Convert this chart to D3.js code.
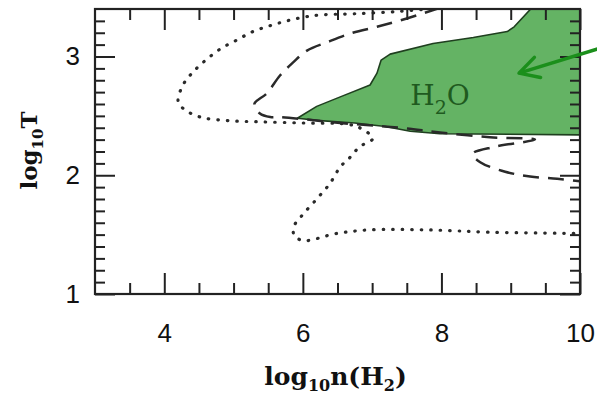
<!DOCTYPE html>
<html>
<head>
<meta charset="utf-8">
<script src="https://cdn.jsdelivr.net/npm/d3@7"></script>
<style>
  body { margin: 0; background: #fff; }
  svg { display: block; }
</style>
</head>
<body>
<div id="chart"></div>
<script>
const width = 597;
const height = 398;

// chart values (log10 n(H2), log10 T)
const xDomain = [3, 10];
const yDomain = [1, 3.4];
const xMajorTicks = [4, 6, 8, 10];
const yMajorTicks = [1, 2, 3];

const dottedCurve = [
    [7.98, 3.41], [7.40, 3.38], [6.75, 3.36], [6.25, 3.35], [6.00, 3.33],
    [5.77, 3.30], [5.53, 3.26], [5.28, 3.21], [5.05, 3.14], [4.80, 3.06],
    [4.56, 2.95], [4.40, 2.86], [4.27, 2.76], [4.20, 2.62], [4.30, 2.55],
    [4.52, 2.49], [4.91, 2.46], [5.38, 2.45], [6.00, 2.44], [6.64, 2.43],
    [6.82, 2.40], [7.01, 2.31], [6.82, 2.24], [6.68, 2.15], [6.54, 2.07],
    [6.39, 1.93], [6.20, 1.80], [6.00, 1.67], [5.88, 1.58], [5.87, 1.50],
    [6.00, 1.45], [6.49, 1.51], [6.97, 1.54], [7.79, 1.54], [8.74, 1.52],
    [10.0, 1.51]
];

const dashedCurve = [
    [7.98, 3.41], [7.50, 3.32], [7.07, 3.25], [6.72, 3.20], [6.35, 3.12],
    [6.06, 3.05], [5.86, 2.95], [5.67, 2.84], [5.48, 2.69], [5.30, 2.60],
    [5.38, 2.52], [5.53, 2.49], [5.67, 2.49], [6.54, 2.44], [7.40, 2.40],
    [7.98, 2.36], [8.70, 2.32], [9.35, 2.30], [8.77, 2.24], [8.45, 2.18],
    [8.56, 2.11], [8.92, 2.03], [9.28, 1.99], [9.67, 1.97], [10.0, 1.95]
];

const waterRegion = [
    [5.92, 2.48], [6.20, 2.58], [6.54, 2.66], [6.97, 2.76], [7.07, 2.86],
    [7.13, 2.97], [7.26, 3.02], [7.88, 3.11], [8.46, 3.16], [8.95, 3.21],
    [9.05, 3.25], [9.32, 3.42], [10.05, 3.42], [10.05, 2.34], [7.98, 2.35],
    [7.55, 2.37], [7.19, 2.41], [6.75, 2.44], [6.25, 2.46]
];

const waterLabelAt = [7.98, 2.68];
const arrowFrom = [10.4, 3.09];
const arrowTo = [9.12, 2.86];

const margin = { top: 9, right: 17, bottom: 104, left: 95 };
const innerW = width - margin.left - margin.right;
const innerH = height - margin.top - margin.bottom;

const svg = d3.select("#chart")
    .append("svg")
    .attr("width", width)
    .attr("height", height);

const x = d3.scaleLinear().domain(xDomain).range([margin.left, margin.left + innerW]);
const y = d3.scaleLinear().domain(yDomain).range([margin.top + innerH, margin.top]);

svg.append("defs").append("clipPath")
    .attr("id", "plot-clip")
    .append("rect")
    .attr("x", margin.left)
    .attr("y", margin.top)
    .attr("width", innerW)
    .attr("height", innerH);

const plot = svg.append("g").attr("clip-path", "url(#plot-clip)");

const line = d3.line()
    .x(d => x(d[0]))
    .y(d => y(d[1]));

// H2O region
plot.append("path")
    .datum(waterRegion)
    .attr("d", line.curve(d3.curveLinearClosed))
    .attr("fill", "#64b364")
    .attr("stroke", "#1f3f1f")
    .attr("stroke-width", 1.6)
    .attr("stroke-linejoin", "round");

const smooth = d3.line()
    .x(d => x(d[0]))
    .y(d => y(d[1]))
    .curve(d3.curveCatmullRom.alpha(0.5));

plot.append("path")
    .datum(dottedCurve)
    .attr("d", smooth)
    .attr("fill", "none")
    .attr("stroke", "#2a2a2a")
    .attr("stroke-width", 3.2)
    .attr("stroke-linecap", "round")
    .attr("stroke-dasharray", "0.5,9");

plot.append("path")
    .datum(dashedCurve)
    .attr("d", smooth)
    .attr("fill", "none")
    .attr("stroke", "#2a2a2a")
    .attr("stroke-width", 2.5)
    .attr("stroke-dasharray", "16,9");

// label inside the region
const lbl = svg.append("text")
    .attr("x", x(waterLabelAt[0]))
    .attr("y", y(waterLabelAt[1]) + 10)
    .attr("text-anchor", "middle")
    .attr("font-family", "DejaVu Serif, serif")
    .attr("font-size", 28)
    .attr("fill", "#1f5a1f");
lbl.append("tspan").text("H");
lbl.append("tspan").attr("font-size", 19).attr("dy", 9).text("2");
lbl.append("tspan").attr("dy", -9).text("O");

// axes: major and minor ticks pointing inward on all four sides
function styleAxis(g) {
    g.select(".domain").remove();
    g.selectAll(".tick line").attr("stroke", "#222").attr("stroke-width", 2);
    g.selectAll(".tick text")
        .attr("fill", "#111")
        .attr("font-family", "Liberation Sans, Arial, sans-serif")
        .attr("font-size", 26);
}

const xMinor = d3.range(3.5, 10, 0.5).filter(v => !xMajorTicks.includes(v));
const yMinor = d3.range(1.1, 3.4, 0.1).map(v => +v.toFixed(1)).filter(v => !yMajorTicks.includes(v));

const bottom = margin.top + innerH;
const right = margin.left + innerW;

svg.append("g")
    .attr("transform", `translate(0,${bottom})`)
    .call(d3.axisBottom(x).tickValues(xMajorTicks).tickSizeInner(-21).tickSizeOuter(0).tickPadding(30).tickFormat(d3.format("d")))
    .call(styleAxis);
svg.append("g")
    .attr("transform", `translate(0,${bottom})`)
    .call(d3.axisBottom(x).tickValues(xMinor).tickSizeInner(-11).tickSizeOuter(0).tickFormat(""))
    .call(styleAxis);
svg.append("g")
    .attr("transform", `translate(0,${margin.top})`)
    .call(d3.axisTop(x).tickValues(xMajorTicks).tickSizeInner(-21).tickSizeOuter(0).tickFormat(""))
    .call(styleAxis);
svg.append("g")
    .attr("transform", `translate(0,${margin.top})`)
    .call(d3.axisTop(x).tickValues(xMinor).tickSizeInner(-11).tickSizeOuter(0).tickFormat(""))
    .call(styleAxis);

svg.append("g")
    .attr("transform", `translate(${margin.left},0)`)
    .call(d3.axisLeft(y).tickValues(yMajorTicks).tickSizeInner(-20).tickSizeOuter(0).tickPadding(15).tickFormat(d3.format("d")))
    .call(styleAxis);
svg.append("g")
    .attr("transform", `translate(${margin.left},0)`)
    .call(d3.axisLeft(y).tickValues(yMinor).tickSizeInner(-10).tickSizeOuter(0).tickFormat(""))
    .call(styleAxis);
svg.append("g")
    .attr("transform", `translate(${right},0)`)
    .call(d3.axisRight(y).tickValues(yMajorTicks).tickSizeInner(-20).tickSizeOuter(0).tickFormat(""))
    .call(styleAxis);
svg.append("g")
    .attr("transform", `translate(${right},0)`)
    .call(d3.axisRight(y).tickValues(yMinor).tickSizeInner(-10).tickSizeOuter(0).tickFormat(""))
    .call(styleAxis);

// frame
svg.append("rect")
    .attr("x", margin.left)
    .attr("y", margin.top)
    .attr("width", innerW)
    .attr("height", innerH)
    .attr("fill", "none")
    .attr("stroke", "#222")
    .attr("stroke-width", 2.2);

// axis titles
const xTitle = svg.append("text")
    .attr("x", (margin.left + right) / 2 - 2)
    .attr("y", 385)
    .attr("text-anchor", "middle")
    .attr("font-family", "DejaVu Serif, serif")
    .attr("font-weight", "bold")
    .attr("font-size", 25)
    .attr("fill", "#111");
xTitle.append("tspan").text("log");
xTitle.append("tspan").attr("font-size", 16).attr("dy", 6).text("10");
xTitle.append("tspan").attr("dy", -6).text("n(H");
xTitle.append("tspan").attr("font-size", 16).attr("dy", 6).text("2");
xTitle.append("tspan").attr("dy", -6).text(")");

const yTitle = svg.append("text")
    .attr("transform", `translate(37,${(margin.top + bottom) / 2 - 1}) rotate(-90)`)
    .attr("text-anchor", "middle")
    .attr("font-family", "DejaVu Serif, serif")
    .attr("font-weight", "bold")
    .attr("font-size", 23)
    .attr("fill", "#111");
yTitle.append("tspan").text("log");
yTitle.append("tspan").attr("font-size", 15).attr("dy", 6).text("10");
yTitle.append("tspan").attr("dy", -6).text("T");

// arrow pointing at the region
const ax1 = x(arrowFrom[0]), ay1 = y(arrowFrom[1]);
const ax2 = x(arrowTo[0]), ay2 = y(arrowTo[1]);
const ang = Math.atan2(ay2 - ay1, ax2 - ax1);
const head = 22, spread = 0.5;
svg.append("line")
    .attr("x1", ax1).attr("y1", ay1)
    .attr("x2", ax2).attr("y2", ay2)
    .attr("stroke", "#1b8f1b")
    .attr("stroke-width", 3.5);
svg.append("path")
    .attr("d", d3.line()([
        [ax2 - head * Math.cos(ang - spread), ay2 - head * Math.sin(ang - spread)],
        [ax2, ay2],
        [ax2 - head * Math.cos(ang + spread), ay2 - head * Math.sin(ang + spread)]
    ]))
    .attr("fill", "none")
    .attr("stroke", "#1b8f1b")
    .attr("stroke-width", 3.5)
    .attr("stroke-linecap", "round")
    .attr("stroke-linejoin", "round");
</script>
</body>
</html>
